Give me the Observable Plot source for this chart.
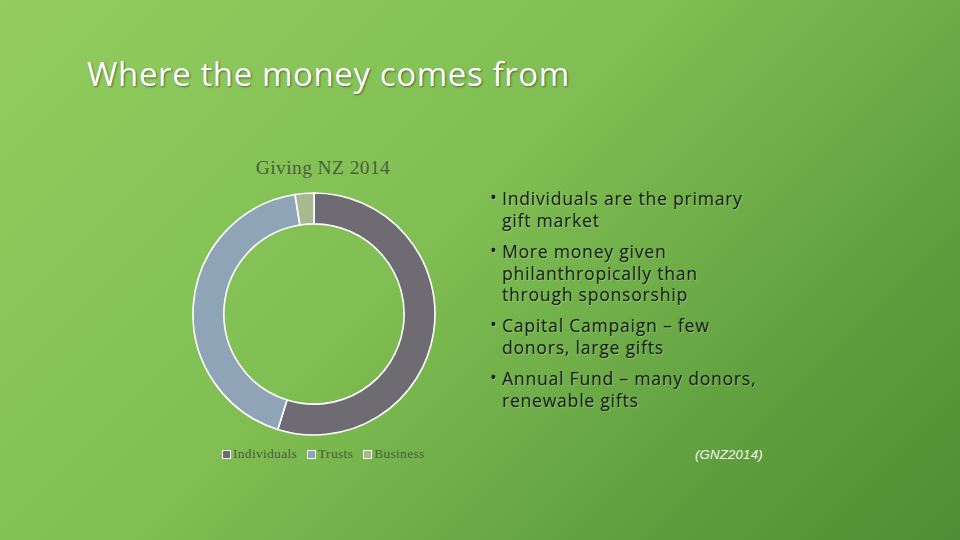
<!DOCTYPE html>
<html>
<head>
<meta charset="utf-8">
<script src="https://cdn.jsdelivr.net/npm/d3@7"></script>
<script src="https://cdn.jsdelivr.net/npm/@observablehq/plot@0.6"></script>
<style>
  html, body { margin: 0; padding: 0; }
  body {
    width: 960px; height: 540px; overflow: hidden; position: relative;
    background: linear-gradient(135deg, #93cd5f 0%, #80be53 45%, #5d9d3d 80%, #4f8f35 100%);
    font-family: "Open Sans", sans-serif;
  }
  #title {
    position: absolute; left: 87px; top: 51px;
    font-size: 33px; color: #ffffff; letter-spacing: 0.6px;
    text-shadow: 1px 1px 2px rgba(0,0,0,0.45);
  }
  #chartTitle {
    position: absolute; left: 180px; width: 286px; top: 157px; text-align: center;
    font-family: "Liberation Serif", "DejaVu Serif", serif; font-size: 19.5px; color: #4b5f3c;
    letter-spacing: 0.4px;
  }
  #chart { position: absolute; left: 184px; top: 184px; }
  #legend {
    position: absolute; left: 222px; top: 446px;
    font-family: "Liberation Serif", "DejaVu Serif", serif; font-size: 13.5px; color: #4b5f3c;
    letter-spacing: 0.3px;
    display: flex; gap: 10px; align-items: center;
  }
  #legend .item { display: flex; align-items: center; gap: 2px; }
  #legend .sw { width: 7px; height: 7px; border: 1.5px solid #ffffff; display: inline-block; }
  #bullets {
    position: absolute; left: 490px; top: 188px; width: 340px;
    font-size: 17.5px; color: #161a12; line-height: 21.8px; letter-spacing: 0.8px;
    text-shadow: 1px 1px 1px rgba(255,255,255,0.25);
  }
  #bullets .b { position: relative; padding-left: 12px; margin-bottom: 9.2px; }
  #bullets .b::before { content: "•"; position: absolute; left: 0; top: -1px; }
  #source {
    position: absolute; left: 695px; top: 447px;
    font-family: "Liberation Sans", sans-serif; font-style: italic; font-size: 13.2px; color: #f4f8ee;
    letter-spacing: 0.2px;
  }
</style>
</head>
<body>
<div id="title">Where the money comes from</div>
<div id="chartTitle">Giving NZ 2014</div>
<div id="chart"></div>
<div id="legend"></div>
<div id="bullets"></div>
<div id="source">(GNZ2014)</div>
<script>
// Data (NZ$ billions)
const categories = ["Individuals", "Trusts", "Business"];
const amounts = [1.53, 1.19, 0.07];
const colors = ["#6e6b73", "#8fa4b7", "#a9b98f"];
const chartTitle = "Giving NZ 2014";
const bulletLines = [
  ["Individuals are the primary", "gift market"],
  ["More money given", "philanthropically than", "through sponsorship"],
  ["Capital Campaign \u2013 few", "donors, large gifts"],
  ["Annual Fund \u2013 many donors,", "renewable gifts"]
];

const slices = categories.map((c, i) => ({category: c, amount: amounts[i]}));
const innerRatio = 0.745;

const plot = Plot.plot({
  width: 260,
  height: 260,
  margin: 9,
  x: {axis: null, domain: [-1, 1]},
  y: {axis: null, domain: [-1, 1]},
  color: {domain: categories, range: colors},
  marks: [
    Plot.dot(slices, {
      x: () => 0,
      y: () => 0,
      fill: "category",
      render: (index, scales, values, dimensions, context) => {
        const cx = scales.x(0), cy = scales.y(0);
        const R = Math.abs(scales.x(1) - scales.x(0));
        const arcs = d3.pie().sort(null).value(d => d.amount)(slices);
        const arc = d3.arc().innerRadius(R * innerRatio).outerRadius(R);
        const g = d3.create("svg:g").attr("transform", `translate(${cx},${cy})`);
        g.selectAll("path").data(arcs).join("path")
          .attr("d", arc)
          .attr("fill", d => scales.color(d.data.category))
          .attr("stroke", "#ffffff")
          .attr("stroke-width", 1.6)
          .attr("stroke-linejoin", "round");
        return g.node();
      }
    })
  ],
  style: {background: "transparent", overflow: "visible"}
});
document.getElementById("chart").appendChild(plot);
document.getElementById("chartTitle").textContent = chartTitle;

const legend = document.getElementById("legend");
categories.forEach((c, i) => {
  const item = document.createElement("span");
  item.className = "item";
  const sw = document.createElement("span");
  sw.className = "sw";
  sw.style.background = colors[i];
  const t = document.createElement("span");
  t.textContent = c;
  item.appendChild(sw); item.appendChild(t);
  legend.appendChild(item);
});

const bullets = document.getElementById("bullets");
bulletLines.forEach(lines => {
  const d = document.createElement("div");
  d.className = "b";
  d.innerHTML = lines.map(l => l.replace(/&/g, "&amp;").replace(/</g, "&lt;")).join("<br>");
  bullets.appendChild(d);
});
</script>
</body>
</html>
